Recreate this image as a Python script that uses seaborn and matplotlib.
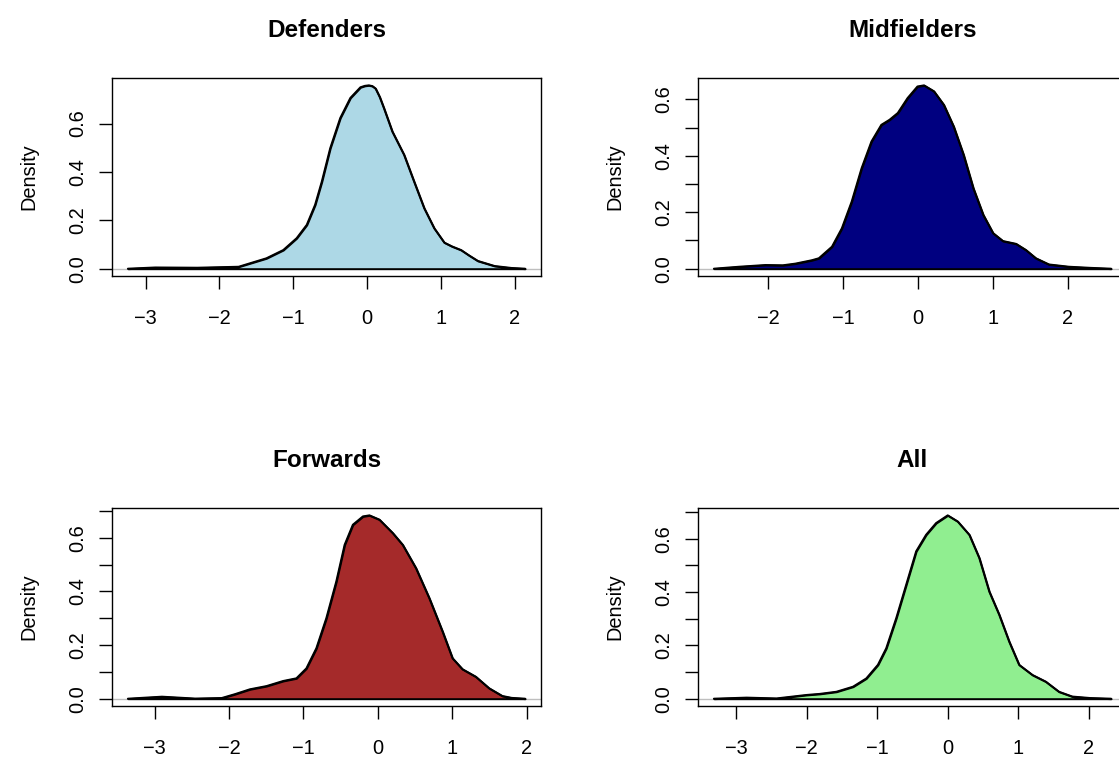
import matplotlib
matplotlib.use("Agg")
import matplotlib.pyplot as plt
import numpy as np
import pandas as pd
import seaborn as sns

# density curves (x = value, d = density)
titles = ["Defenders", "Midfielders", "Forwards", "All"]
fills = ["#ADD8E6", "#000080", "#A52A2A", "#90EE90"]

def_x = [-3.24, -2.87, -2.3, -1.74, -1.59, -1.364, -1.136, -0.955, -0.818, -0.705, -0.614, -0.50,
         -0.364, -0.227, -0.091, -0.03, 0.023, 0.07, 0.114, 0.17, 0.227, 0.341, 0.50, 0.636, 0.773,
         0.909, 1.045, 1.15, 1.273, 1.38, 1.5, 1.727, 1.955, 2.14]
def_d = [0.0, 0.005, 0.004, 0.008, 0.022, 0.043, 0.077, 0.126, 0.181, 0.264, 0.360, 0.498,
         0.623, 0.706, 0.750, 0.756, 0.758, 0.755, 0.745, 0.71, 0.664, 0.567, 0.471, 0.360, 0.250,
         0.167, 0.108, 0.092, 0.077, 0.055, 0.032, 0.011, 0.003, 0.0]

mid_x = [-2.73, -2.39, -2.04, -1.81, -1.64, -1.42, -1.327, -1.152, -1.02, -0.888, -0.756, -0.624,
         -0.492, -0.382, -0.272, -0.141, -0.009, 0.079, 0.211, 0.343, 0.475, 0.607, 0.738, 0.87,
         1.002, 1.134, 1.31, 1.442, 1.574, 1.749, 2.013, 2.3, 2.58]
mid_d = [0.0, 0.007, 0.013, 0.012, 0.018, 0.030, 0.037, 0.078, 0.143, 0.238, 0.356, 0.451,
         0.510, 0.528, 0.552, 0.605, 0.646, 0.650, 0.629, 0.581, 0.504, 0.404, 0.285, 0.191,
         0.126, 0.098, 0.088, 0.066, 0.037, 0.015, 0.007, 0.003, 0.0]

fwd_x = [-3.358, -2.90, -2.455, -2.097, -1.918, -1.719, -1.496, -1.272, -1.094, -0.96, -0.826,
         -0.692, -0.558, -0.446, -0.335, -0.2, -0.112, 0.022, 0.201, 0.335, 0.513, 0.692, 0.871,
         1.004, 1.138, 1.317, 1.496, 1.674, 1.80, 1.98]
fwd_d = [0.0, 0.0075, 0.0005, 0.0025, 0.017, 0.035, 0.047, 0.066, 0.076, 0.113, 0.188,
         0.300, 0.437, 0.574, 0.649, 0.680, 0.684, 0.668, 0.618, 0.574, 0.487, 0.375, 0.250,
         0.151, 0.110, 0.082, 0.039, 0.010, 0.003, 0.0]

all_x = [-3.319, -2.855, -2.43, -2.003, -1.816, -1.58, -1.344, -1.156, -0.991, -0.873, -0.731,
         -0.59, -0.448, -0.307, -0.165, 0.0, 0.142, 0.307, 0.448, 0.59, 0.731, 0.873, 1.014,
         1.203, 1.392, 1.58, 1.769, 2.022, 2.32]
all_d = [0.0, 0.004, 0.001, 0.014, 0.018, 0.026, 0.045, 0.076, 0.127, 0.189, 0.302,
         0.427, 0.553, 0.615, 0.659, 0.688, 0.665, 0.615, 0.528, 0.402, 0.315, 0.214, 0.127,
         0.089, 0.064, 0.026, 0.008, 0.0025, 0.0]

curves = [(def_x, def_d), (mid_x, mid_d), (fwd_x, fwd_d), (all_x, all_d)]

sns.set_style("white")
plt.rcParams['font.family'] = ['Liberation Sans', 'DejaVu Sans']
plt.rcParams['text.color'] = 'black'
plt.rcParams['axes.labelcolor'] = 'black'

W, H = 1119, 757
fig = plt.figure(figsize=(W / 100, H / 100), dpi=100)

# panel boxes in pixels: left, top
boxes = [(112, 78), (698, 78), (112, 508), (698, 508)]
bw, bh = 429, 198

for i, (title, col, (xs, ds)) in enumerate(zip(titles, fills, curves)):
    left, top = boxes[i]
    ax = fig.add_axes([left / W, 1 - (top + bh) / H, bw / W, bh / H])
    df = pd.DataFrame({"x": xs, "d": ds})

    ax.axhline(0, color="#BEBEBE", lw=1, zorder=1)
    ax.fill_between(df["x"], df["d"], 0, facecolor=col, edgecolor="black", lw=1.4,
                    joinstyle="round", zorder=2)
    sns.lineplot(data=df, x="x", y="d", color="black", lw=1.4, ax=ax, zorder=3,
                 solid_joinstyle="round", solid_capstyle="round")

    # R style 4% padding
    xr = df["x"].max() - df["x"].min()
    ax.set_xlim(df["x"].min() - 0.04 * xr, df["x"].max() + 0.04 * xr)
    ymax = df["d"].max()
    ax.set_ylim(-0.04 * ymax, ymax * 1.04)

    lo, hi = ax.get_xlim()
    ax.set_xticks(np.arange(np.ceil(lo), np.floor(hi) + 1))
    step = 0.2 if ymax > 0.7 else 0.1
    yt = np.round(np.arange(0, ymax * 1.04 + 1e-9, step), 2)
    ax.set_yticks(yt)
    ax.set_yticklabels([f"{v:.1f}" if round(v * 10) % 2 == 0 else "" for v in yt],
                       rotation=90, va="center")

    ax.tick_params(axis="both", direction="out", length=9.5, width=1, color="black",
                   labelsize=14.4, labelcolor="black", bottom=True, left=True)
    ax.tick_params(axis="x", pad=14)
    ax.tick_params(axis="y", pad=8)
    for sp in ax.spines.values():
        sp.set_visible(True)
        sp.set_color("black")
        sp.set_linewidth(1)

    ax.set_xlabel("")
    ax.set_ylabel("Density", fontsize=14.4, labelpad=22)
    ax.set_title(title, fontsize=17.5, fontweight="bold", pad=29.5)

fig.savefig("out.png", dpi=100)
